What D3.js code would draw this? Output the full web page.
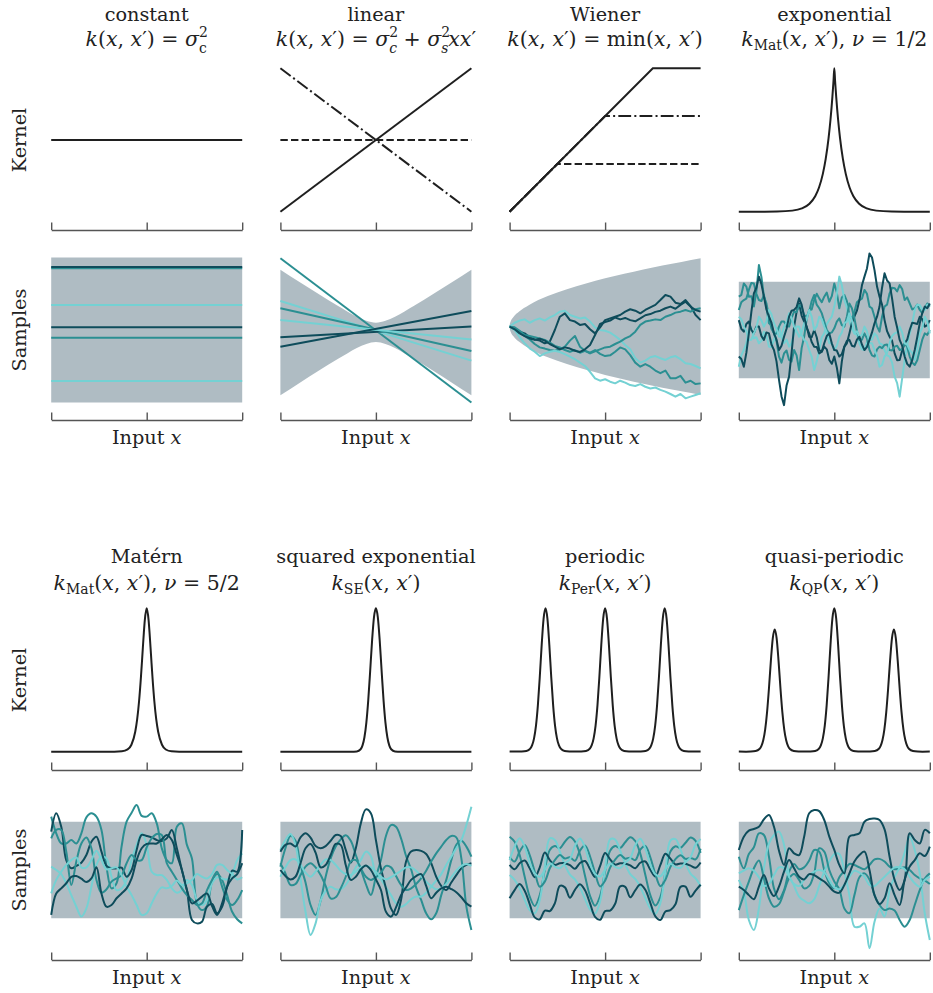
<!DOCTYPE html>
<html>
<head>
<meta charset="utf-8">
<script src="https://cdn.jsdelivr.net/npm/d3@7"></script>
<style>
  body { margin: 0; background: #fff; }
</style>
</head>
<body>
<div id="chart"></div>
<script>
// ---- panel text ----
var titles = ["constant", "linear", "Wiener", "exponential",
              "Matérn", "squared exponential", "periodic", "quasi-periodic"];

// formula pieces: [text, style]  (i = italic, sup / sub, back = stack under previous sup)
var kxx = [["k", "i"], ["(", ""], ["x", "i"], [", ", ""], ["x", "i"], ["′", ""], [")", ""]];
var formulas = [
  kxx.concat([[" = ", ""], ["σ", "i"], ["2", "sup"], ["c", "sub back"]]),
  kxx.concat([[" = ", ""], ["σ", "i"], ["2", "sup"], ["c", "sub back i"], [" + ", ""], ["σ", "i"], ["2", "sup"], ["s", "sub back i"], ["xx", "i"], ["′", ""]]),
  kxx.concat([[" = min(", ""], ["x", "i"], [", ", ""], ["x", "i"], ["′", ""], [")", ""]]),
  [["k", "i"], ["Mat", "sub"], ["(", ""], ["x", "i"], [", ", ""], ["x", "i"], ["′", ""], ["), ", ""], ["ν", "i"], [" = 1/2", ""]],
  [["k", "i"], ["Mat", "sub"], ["(", ""], ["x", "i"], [", ", ""], ["x", "i"], ["′", ""], ["), ", ""], ["ν", "i"], [" = 5/2", ""]],
  [["k", "i"], ["SE", "sub"], ["(", ""], ["x", "i"], [", ", ""], ["x", "i"], ["′", ""], [")", ""]],
  [["k", "i"], ["Per", "sub"], ["(", ""], ["x", "i"], [", ", ""], ["x", "i"], ["′", ""], [")", ""]],
  [["k", "i"], ["QP", "sub"], ["(", ""], ["x", "i"], [", ", ""], ["x", "i"], ["′", ""], [")", ""]]
];

// ---- kernel curves (x in [0,1], k in [0,1]) ----
var constKX = [0, 1], constKY = [0.5, 0.5];
var linKX = [0, 1];
var linSolid = [0, 1], linDashed = [0.5, 0.5], linDashDot = [1, 0];
var wienerDashedX = [0, 0.25, 1], wienerDashed = [0, 0.333, 0.333];
var wienerDashDotX = [0, 0.5, 1], wienerDashDot = [0, 0.667, 0.667];
var wienerSolidX = [0, 0.75, 1], wienerSolid = [0, 1, 1];

var expX = [0, 0.1, 0.2, 0.28, 0.33, 0.37, 0.4, 0.42, 0.44, 0.455, 0.47, 0.48, 0.49, 0.496, 0.5,
            0.504, 0.51, 0.52, 0.53, 0.545, 0.56, 0.58, 0.6, 0.63, 0.67, 0.72, 0.8, 0.9, 1];
var expK = [0, 0.0001, 0.0013, 0.0075, 0.0229, 0.0556, 0.108, 0.169, 0.264, 0.368, 0.513, 0.641, 0.801, 0.915, 1,
            0.915, 0.801, 0.641, 0.513, 0.368, 0.264, 0.169, 0.108, 0.0556, 0.0229, 0.0075, 0.0013, 0.0001, 0];

var maternX = [0, 0.2, 0.33, 0.37, 0.4, 0.42, 0.44, 0.45, 0.46, 0.47, 0.475, 0.48, 0.485, 0.49, 0.5,
               0.51, 0.515, 0.52, 0.525, 0.53, 0.54, 0.55, 0.56, 0.58, 0.6, 0.63, 0.67, 0.8, 1];
var maternK = [0, 0, 0.0002, 0.0026, 0.0156, 0.0484, 0.139, 0.225, 0.352, 0.524, 0.624, 0.728, 0.829, 0.916, 1,
               0.916, 0.829, 0.728, 0.624, 0.524, 0.352, 0.225, 0.139, 0.0484, 0.0156, 0.0026, 0.0002, 0, 0];

var seX = [0, 0.3, 0.37, 0.4, 0.42, 0.43, 0.44, 0.45, 0.46, 0.47, 0.48, 0.49, 0.5,
           0.51, 0.52, 0.53, 0.54, 0.55, 0.56, 0.57, 0.58, 0.6, 0.63, 0.7, 1];
var seK = [0, 0, 0, 0.0017, 0.0169, 0.0439, 0.1007, 0.203, 0.36, 0.563, 0.775, 0.938, 1,
           0.938, 0.775, 0.563, 0.36, 0.203, 0.1007, 0.0439, 0.0169, 0.0017, 0, 0, 0];

var perX = [0, 0.038, 0.063, 0.088, 0.108, 0.118, 0.128, 0.138, 0.148, 0.158, 0.168, 0.178, 0.188,
            0.198, 0.208, 0.218, 0.228, 0.238, 0.248, 0.258, 0.268, 0.288, 0.313, 0.344, 0.375, 0.4,
            0.42, 0.43, 0.44, 0.45, 0.46, 0.47, 0.48, 0.49, 0.5,
            0.51, 0.52, 0.53, 0.54, 0.55, 0.56, 0.57, 0.58, 0.6, 0.625, 0.656, 0.687, 0.712,
            0.732, 0.742, 0.752, 0.762, 0.772, 0.782, 0.792, 0.802, 0.812,
            0.822, 0.832, 0.842, 0.852, 0.862, 0.872, 0.882, 0.892, 0.912, 0.937, 0.962, 1];
var perK = [0.0014, 0.0006, 0.0014, 0.0051, 0.0217, 0.0454, 0.093, 0.18, 0.323, 0.521, 0.745, 0.928, 1,
            0.928, 0.745, 0.521, 0.323, 0.18, 0.093, 0.0454, 0.0217, 0.0051, 0.0014, 0.0006, 0.0014, 0.0051,
            0.0217, 0.0454, 0.093, 0.18, 0.323, 0.521, 0.745, 0.928, 1,
            0.928, 0.745, 0.521, 0.323, 0.18, 0.093, 0.0454, 0.0217, 0.0051, 0.0014, 0.0006, 0.0014, 0.0051,
            0.0217, 0.0454, 0.093, 0.18, 0.323, 0.521, 0.745, 0.928, 1,
            0.928, 0.745, 0.521, 0.323, 0.18, 0.093, 0.0454, 0.0217, 0.0051, 0.0014, 0.0006, 0.0014];
var qpK = [0.0012, 0.0005, 0.0012, 0.0044, 0.0185, 0.0387, 0.0793, 0.154, 0.276, 0.444, 0.635, 0.792, 0.853,
           0.792, 0.635, 0.444, 0.276, 0.154, 0.0793, 0.0387, 0.0185, 0.0044, 0.0012, 0.0006, 0.0014, 0.0051,
           0.0217, 0.0454, 0.093, 0.18, 0.323, 0.521, 0.745, 0.928, 1,
           0.928, 0.745, 0.521, 0.323, 0.18, 0.093, 0.0454, 0.0217, 0.0051, 0.0014, 0.0006, 0.0012, 0.0044,
           0.0185, 0.0387, 0.0793, 0.154, 0.276, 0.444, 0.635, 0.792, 0.853,
           0.792, 0.635, 0.444, 0.276, 0.154, 0.0793, 0.0387, 0.0185, 0.0044, 0.0012, 0.0005, 0.0012];

// ---- prior bands (x in [0,1]) ----
var flatBandX = [0, 1];
var constBandLo = [-3, -3], constBandHi = [3, 3];
var statBandLo = [-2, -2], statBandHi = [2, 2];
var linBandX = [0, 0.1, 0.2, 0.3, 0.35, 0.4, 0.45, 0.5, 0.55, 0.6, 0.65, 0.7, 0.8, 0.9, 1];
var linBandHi = [2.5, 1.99, 1.49, 1.0, 0.77, 0.55, 0.38, 0.3, 0.38, 0.55, 0.77, 1.0, 1.49, 1.99, 2.5];
var linBandLo = [-2.7, -2.19, -1.69, -1.2, -0.97, -0.75, -0.58, -0.5, -0.58, -0.75, -0.97, -1.2, -1.69, -2.19, -2.7];
var wienerBandX = [0, 0.001, 0.005, 0.02, 0.05, 0.1, 0.15, 0.2, 0.3, 0.4, 0.5, 0.6, 0.7, 0.8, 0.9, 1];
var wienerBandHi = [0.14, 0.23, 0.34, 0.54, 0.77, 1.03, 1.24, 1.41, 1.69, 1.93, 2.14, 2.33, 2.51, 2.67, 2.82, 2.97];
var wienerBandLo = [0.14, 0.05, -0.06, -0.26, -0.49, -0.75, -0.96, -1.13, -1.41, -1.65, -1.86, -2.05, -2.23, -2.39, -2.54, -2.69];

// ---- samples (order: mid, light, dark, mid, light, dark) ----
var constSamples = [2.56, 1.04, 2.61, -0.32, -2.11, 0.11];
var linSamples = [[2.97, -3.0], [1.2, -1.27], [-0.3, 0.14], [0.9, -0.87], [0.41, -0.39], [-0.69, 0.79]];

var wienerM1 = [0.14,0.03,-0.11,-0.25,-0.39,-0.58,-0.72,-0.77,-0.83,-0.86,-0.8,-0.69,-0.44,-0.25,-0.69,-0.86,-0.94,-0.83,-0.99,-1.08,-1.05,-0.9,-0.72,-0.8,-1.04,-1.35,-1.52,-1.41,-1.52,-1.68,-1.79,-1.68,-2.0,-2.0,-1.9,-2.18,-2.1,-2.24,-2.21];
var wienerL1 = [0.14,0.3,0.39,0.44,0.3,0.41,0.48,0.39,0.52,0.62,0.76,0.8,0.62,0.55,0.48,0.52,0.35,0.11,0,-0.03,-0.11,-0.25,-0.41,-0.62,-0.8,-1.17,-1.35,-1.27,-1.13,-1.08,-1.17,-1.24,-1.13,-1.08,-1.21,-1.38,-1.41,-1.49,-1.59];
var wienerD1 = [0.14,0.07,-0.07,-0.14,-0.3,-0.39,-0.44,-0.55,-0.48,0,0.55,0.69,0.41,0.35,0.21,0.25,0.03,-0.14,0.11,0.41,0.48,0.55,0.62,0.76,0.86,0.8,0.69,0.83,0.94,1.04,1.24,1.45,1.38,1.13,1.08,1.24,0.99,0.62,0.41];
var wienerM2 = [0.14,0.11,-0.03,-0.21,-0.25,-0.3,-0.35,-0.41,-0.52,-0.66,-0.72,-0.83,-0.9,-0.83,-0.94,-0.86,-0.97,-0.88,-0.8,-0.72,-0.69,-0.58,-0.48,-0.35,-0.25,-0.07,0.21,0.35,0.39,0.44,0.41,0.55,0.62,0.72,0.76,0.83,0.76,0.86,0.9];
var wienerL2 = [0.14,0,-0.3,-0.55,-0.76,-0.9,-1.08,-0.97,-0.9,-0.86,-0.91,-1.0,-1.1,-1.21,-1.35,-1.49,-1.73,-2.0,-2.1,-2.04,-2.14,-2.21,-2.1,-2.18,-2.28,-2.32,-2.24,-2.35,-2.42,-2.38,-2.48,-2.55,-2.65,-2.76,-2.65,-2.83,-2.76,-2.69,-2.62];
var wienerD2 = [0.14,0.03,-0.14,-0.25,-0.35,-0.41,-0.36,-0.44,-0.58,-0.69,-0.8,-0.72,-0.77,-0.86,-0.91,-0.8,-0.62,-0.21,0.25,0.33,0.39,0.52,0.44,0.5,0.41,0.36,0.48,0.61,0.66,0.75,0.8,0.9,0.97,0.88,1.04,1.17,0.97,0.83,0.76];

var expM1 = [1.38,1.45,1.93,1.80,1.38,1.40,0.97,1.60,2.69,2.20,1.38,1.10,0.55,0.05,-0.14,-0.45,-1.1,-1.35,-0.97,-0.85,-1.24,-1.30,-0.83,-1.05,-1.66,-0.75,-0.28,0.45,0.83,0.85,1.24,1.50,1.31,1.15,1.38,1.55,1.17,1.40,1.93,1.55,0.9,1.35,1.45,1.20,0.62,0.45,0.76,1.15,1.24,1.30,1.66,1.50,0.97,0.90,0.55,0.15,-0.07,0.55,0.97,1.05,1.52,1.75,1.73,1.60,1.86,1.70,1.24,1.35,1.1,0.85,0.9,1.05,0.83,0.70,0.9,1.10,0.97];
var expL1 = [-1.52,-1.05,-0.83,-0.55,0,0.10,-0.35,-0.30,-0.55,-0.45,-0.07,-0.20,-0.69,-0.70,-0.41,-0.05,0.14,-0.30,-0.55,-0.40,-0.69,-0.55,-0.14,0.15,0.14,-0.20,-0.41,-0.50,-0.83,-1.10,-1.66,-1.30,-0.83,-0.30,-0.14,0.25,0.41,0.55,0.97,1.50,2.21,1.85,1.24,0.95,0.35,0.05,-0.14,-0.20,-0.55,-0.80,-0.83,-0.50,-0.41,-0.40,-0.14,-0.25,-0.55,-0.60,-0.83,-1.05,-1.1,-1.35,-1.93,-2.20,-2.76,-2.00,-1.24,-0.60,-0.14,0.25,0.83,1.05,1.04,0.85,0.83,1.05,0.97];
var expD1 = [0.41,0.05,-0.07,0.25,0.35,0.00,-0.14,0.15,0.14,-0.25,-0.41,-0.10,-0.14,-0.60,-0.83,-1.30,-2.07,-2.75,-3.11,-2.30,-1.93,-0.95,0.14,0.75,1.1,0.60,0.35,0.15,-0.28,-0.30,0,-0.30,-0.83,-0.90,-0.69,-0.80,-1.24,-1.40,-1.1,-1.55,-2.21,-1.30,-0.69,-0.55,-0.14,0.30,0.55,0.80,1.24,1.85,2.21,2.55,3.17,3.00,2.48,1.80,1.38,1.05,0.41,-0.05,-0.28,-0.45,-0.97,-1.25,-1.24,-0.85,-0.55,-0.40,0,0.30,0.28,0.25,0.55,0.45,0.14,0.20,0.41];
var expM2 = [0.83,1.15,1.24,1.30,1.66,1.95,1.93,1.50,1.24,1.20,1.45,0.95,0.28,0.20,-0.14,-0.15,0.14,0.35,0.35,0.15,0.14,0.50,0.76,0.75,1.04,0.95,0.62,0.55,0.76,1.20,1.45,1.05,0.9,0.70,0.35,0.00,-0.14,-0.10,0.07,0.35,0.48,0.20,0.14,0.55,1.1,0.90,0.48,-0.05,-0.41,-0.40,-0.14,-0.35,-0.83,-1.05,-1.1,-0.80,-0.69,-0.75,-0.62,-0.60,-0.83,-0.85,-0.69,-0.65,-0.83,-0.80,-0.55,-0.70,-1.1,-1.35,-1.45,-1.25,-0.83,-0.40,-0.14,-0.20,0];
var expL2 = [0.55,0.45,0.14,-0.05,-0.41,-0.40,-0.14,0.10,0.55,0.40,0.14,0.35,0.83,0.65,0.28,0.05,-0.28,-0.25,0.14,0.30,0.69,0.50,0.14,-0.05,-0.28,-0.10,0.28,0.45,0.83,0.55,0,0.15,0.55,0.45,0.14,-0.10,-0.55,-0.55,-0.83,-0.65,-0.28,-0.10,0.28,0.35,0.69,0.40,-0.14,-0.05,-0.28,-0.20,0.14,-0.05,-0.55,-0.55,-0.83,-1.05,-1.52,-1.45,-1.1,-0.95,-0.55,-0.25,-0.14,-0.10,0.14,-0.10,-0.55,-0.60,-0.83,-0.95,-1.24,-0.80,-0.14,0.10,0.55,0.35,-0.14];
var expD2 = [-1.1,-1.20,-1.52,-0.95,-0.14,0.75,1.52,1.75,2.21,1.90,1.38,0.85,0.55,0.30,-0.14,-0.40,-0.83,-0.65,-0.28,0.05,0.55,0.80,0.83,0.95,1.31,1.05,0.55,0.10,-0.14,-0.50,-0.69,-0.70,-0.97,-0.90,-0.55,-0.25,-0.14,-0.55,-0.83,-0.85,-1.1,-1.00,-0.69,-0.45,-0.41,-0.65,-0.69,-0.40,-0.28,-0.60,-0.83,-0.70,-0.41,-0.10,0.28,0.55,0.97,1.75,2.35,2.05,1.93,1.30,0.55,0.10,-0.41,-0.65,-1.1,-1.40,-1.52,-1.25,-0.83,-0.30,0.28,0.70,0.97,0.90,1.1];

var maternM1 = [2.21,1.52,1.1,1.1,1.24,1.1,1.52,2.18,2.35,2.21,1.66,0.14,-0.76,-0.55,0.97,2.0,2.37,2.69,2.24,2.21,2.35,1.93,0.9,0.41,0.28,1.79,1.93,1.04,0.48,-1.38,-1.66,-1.49,-0.48,-0.17,-0.41,-1.04,-1.73,-2.04,-2.21];
var maternL1 = [0.14,0,-0.17,-0.55,-1.04,-1.52,-1.93,-1.59,-0.69,0.21,0.55,0.48,-0.28,-0.83,-0.76,-0.41,0.41,1.04,1.52,1.04,-0.07,-0.21,-0.21,-0.41,-0.76,-0.94,-0.83,-0.41,-0.62,-1.24,-1.45,-1.24,-0.55,-0.3,-0.35,-0.39,-0.17,0.41,0.69];
var maternD1 = [1.59,2.35,1.79,0.41,0.07,0.17,0.3,0.62,1.17,1.38,0.76,0.17,0.07,0.07,0.1,-0.28,0,0.83,1.45,1.41,1.35,1.24,1.2,1.31,1.66,0.9,0,-0.83,-2.07,-2.21,-2.14,-1.52,-1.41,-1.79,-1.52,-0.69,-0.03,-0.07,1.66];
var maternM2 = [1.31,1.66,1.66,0.76,-0.62,0.35,1.1,1.35,0.9,-0.41,-0.94,-0.8,-0.48,-0.35,-0.21,0.28,0.62,0.41,0.41,0.94,1.31,1.49,1.45,0.28,-0.07,-0.41,-0.76,-1.04,-1.24,-1.45,-1.38,-0.83,-0.41,-0.07,-0.69,-1.24,-1.45,-1.24,-0.83];
var maternL2 = [-0.97,-0.41,-0.07,0.21,0.41,0.52,0.11,0.11,0.41,0.8,0.41,0.03,0.07,0.11,-0.21,-0.69,-1.04,-1.45,-1.86,-1.79,-1.38,-0.97,-0.72,-0.76,-0.66,-0.44,-0.62,-0.55,-0.41,-0.17,-0.28,-0.35,-0.17,0.21,0.21,0,-0.17,-0.39,-0.3];
var maternD2 = [-1.86,-0.97,-0.76,-0.55,-0.28,-0.25,-0.36,-0.5,-0.35,0.11,-0.97,-1.52,-1.45,-1.17,-0.97,-0.76,-0.35,0.41,0.9,1.08,1.1,1.1,1.27,1.45,1.24,0.62,0,-0.83,-1.38,-1.27,-1.1,-0.97,-1.49,-1.86,-1.38,-0.69,-0.35,-0.17,0.28];

var seM1 = [0.14,0.9,1.41,1.21,0.21,-0.52,-1.45,-1.86,-1.27,-0.28,0.48,0.97,1.27,1.44,1.21,0.62,0.03,-0.58,-1.04,-0.28,0.41,1.41,1.86,1.79,1.31,0.58,0.03,-0.72,-1.24,-1.79,-2.04,-1.79,-1.04,-0.41,0.41,1.04,1.21,0.97,0.55];
var seL1 = [0.83,1.24,1.49,1.04,-0.35,-1.73,-2.69,-2.21,-1.27,-0.86,-0.69,-0.8,-0.8,-0.62,-0.28,0.11,0.41,0.76,0.58,-0.21,-0.39,-0.72,-1.04,-1.38,-1.52,-1.41,-1.21,-1.1,-1.1,-0.94,-0.69,-0.44,-0.17,0.21,0.55,0.9,1.24,1.86,2.62];
var seD1 = [0.76,1.04,1.1,0.97,1.35,1.52,1.34,0.99,0.9,0.99,1.21,1.45,1.41,0.83,0.3,0.9,1.93,2.51,2.35,1.24,0.07,-0.76,-1.59,-1.86,-1.24,0.35,0.77,0.83,0.79,0.66,0.28,-0.28,-0.66,-0.83,-0.52,-0.21,0.07,0.21,0.28];
var seM2 = [0.28,-0.14,-0.62,-0.58,-0.21,0.14,0.28,0.11,-0.21,-0.66,-1.17,-1.13,-0.76,-0.28,0.35,0.41,0.07,-0.28,-0.41,-0.3,-0.11,0.17,0.11,-0.25,-0.62,-0.83,-0.76,-0.58,-0.35,-0.03,0.35,0.69,0.97,1.24,1.41,1.35,0.48,-1.52,-2.48];
var seL2 = [-0.28,0.11,0.41,0.44,0.21,-0.11,-0.28,-0.07,0.21,0.44,0.41,0.21,-0.03,-0.17,-0.21,-0.07,0.11,0.17,0.11,-0.07,-0.28,-0.39,-0.3,-0.17,-0.03,0.11,0.11,-0.03,-0.25,-0.48,-0.66,-0.8,-0.76,-0.58,-0.3,-0.03,0.17,0.25,0.17];
var seD2 = [0,-0.25,-0.39,-0.28,0.28,0.9,1.08,0.72,0.11,0.21,0.62,1.08,1.04,0.21,-0.41,-0.28,0.03,0.19,0,-0.39,-0.83,-1.73,-1.93,-1.55,-1.04,-0.72,-0.41,-0.25,-0.17,-0.66,-1.17,-0.94,-0.76,-0.69,-0.79,-0.92,-1.13,-1.38,-1.52];

var perM1 = [1.38,1.17,0.62,-0.28,-1.1,-1.49,-1.04,0,0.83,0.99,0.9,1.17,1.37,1.18,0.65,-0.24,-1.07,-1.48,-1.08,-0.05,0.8,0.99,0.91,1.15,1.36,1.2,0.68,-0.2,-1.04,-1.47,-1.12,-0.1,0.77,0.98,0.92,1.13,1.35,1.21,0.71];
var perL1 = [-0.21,-0.41,-0.76,-1.24,-1.66,-1.79,-1.24,0.14,1.31,1.24,0.76,0.21,-0.19,-0.39,-0.73,-1.2,-1.63,-1.8,-1.3,0.05,1.27,1.26,0.8,0.25,-0.17,-0.37,-0.7,-1.16,-1.6,-1.81,-1.36,-0.04,1.22,1.28,0.84,0.29,-0.15,-0.35,-0.67];
var perD1 = [0.21,0.03,0.28,0.39,0.07,-0.3,0.11,0.72,0.41,0.21,0.28,0.28,0.2,0.05,0.29,0.37,0.04,-0.29,0.16,0.7,0.44,0.22,0.28,0.27,0.19,0.07,0.3,0.35,0.01,-0.27,0.21,0.67,0.47,0.23,0.27,0.26,0.18,0.09,0.31];
var perM2 = [0.55,0.35,0.76,1.04,0.62,-0.07,-0.69,-0.48,0.07,0.41,0.62,0.48,0.53,0.38,0.8,1.02,0.57,-0.12,-0.68,-0.44,0.1,0.43,0.62,0.47,0.51,0.41,0.84,1.0,0.52,-0.17,-0.67,-0.4,0.13,0.45,0.61,0.46,0.5,0.44,0.88];
var perL2 = [0.41,0.97,1.31,0.97,0.28,-0.14,-0.28,0,0.28,0.14,0.07,0.28,0.45,1.0,1.3,0.93,0.25,-0.16,-0.27,0.02,0.27,0.13,0.08,0.3,0.49,1.03,1.29,0.89,0.22,-0.18,-0.26,0.04,0.26,0.12,0.09,0.32,0.53,1.06,1.28];
var perD2 = [-1.17,-0.83,-0.58,-0.86,-1.41,-1.96,-2.04,-1.68,-1.7,-1.38,-0.66,-0.72,-1.15,-0.82,-0.59,-0.84,-1.38,-1.94,-2.06,-1.7,-1.68,-1.4,-0.68,-0.7,-1.13,-0.84,-0.6,-0.82,-1.36,-1.92,-2.07,-1.72,-1.66,-1.42,-0.7,-0.69,-1.11,-0.85,-0.61];

var qpM1 = [0.55,0.07,0.66,0.94,1.52,1.45,0.55,-0.76,-1.21,-0.83,-0.07,0.25,0.03,0.11,0.39,0.83,0.76,0,-0.55,-0.76,-0.3,-0.03,0.25,0.21,0.11,0.03,0.21,0.44,0.46,0.35,0.14,0.03,0.07,0.11,0,-0.21,-0.35,-0.44,-0.58];
var qpL1 = [-0.41,-0.9,-2.07,-2.48,-1.59,0.07,1.1,1.45,1.59,1.04,-0.21,-0.66,-1.1,-1.27,-1.38,-1.21,-0.66,-0.07,0.35,0.66,0.66,-0.07,-1.04,-2.35,-2.35,-2.21,-3.24,-2.14,-1.59,-1.93,-0.83,-0.28,0.11,0.72,1.38,0.83,-0.14,-1.79,-2.9];
var qpD1 = [0.83,1.38,1.63,1.7,1.79,2.1,2.28,1.79,0.8,0.21,0.9,0.69,0.62,1.38,2.35,2.48,2.44,2.07,1.38,0.83,0.21,-0.14,1.38,1.45,1.52,2.0,2.11,2.13,2.07,1.68,0.55,-0.41,-0.83,-0.41,1.52,1.24,1.1,1.66,1.52];
var qpM2 = [-1.66,-1.04,-0.48,0.07,0.39,-0.35,-1.17,-1.52,-1.41,-0.9,-0.35,-0.17,-0.41,-0.76,-0.66,-0.14,0.9,0.76,0,-0.48,-0.8,-1.59,-1.79,-1.04,-0.3,-0.14,-0.39,-1.04,-1.45,-1.66,-1.59,-1.68,-2.07,-2.35,-2.07,-1.45,-0.83,-0.35,-0.14];
var qpL2 = [-0.14,-0.03,0.07,-0.03,-0.3,-0.66,-0.58,-0.21,0.11,0.07,-0.28,-0.58,-0.66,-0.41,-0.21,-0.07,0,-0.08,-0.41,-0.72,-0.8,-0.62,-0.28,-0.03,-0.11,-0.28,-0.62,-0.66,-0.48,-0.28,-0.07,0.11,0.11,0.03,-0.28,-0.55,-0.69,-0.41,-0.28];
var qpD2 = [-0.69,-0.83,-1.04,-1.21,-0.69,-0.21,-0.76,-1.08,-0.69,-0.07,0.41,0.07,-0.28,-0.39,-0.17,-0.21,-0.35,-0.48,-0.69,-0.9,-0.94,-0.62,-0.14,0.35,0.62,0.76,0,-1.04,-1.41,-1.17,-0.55,-1.04,-1.45,-0.41,0.14,0.41,0.69,0.58,0.97];

// ---- style ----
var dark = "#0e4c5b", mid = "#2b8f92", light = "#74d1d3";
var sampleColors = [mid, light, dark, mid, light, dark];
var bandColor = "#afbcc3";
var inkColor = "#1f1f1f";
var axisColor = "#555";
var dashes = { solid: null, dashed: "7.4,3.2", dashdot: "12.8,3.2,2,3.2" };

// ---- panel table built from the arrays above ----
var panels = [
  { kernel: [{ x: constKX, k: constKY, dash: "solid" }], kCurve: d3.curveLinear,
    band: [flatBandX, constBandLo, constBandHi],
    samples: constSamples.map(function(v) { return [v, v]; }), sCurve: d3.curveLinear },
  { kernel: [{ x: linKX, k: linDashed, dash: "dashed" }, { x: linKX, k: linDashDot, dash: "dashdot" },
             { x: linKX, k: linSolid, dash: "solid" }], kCurve: d3.curveLinear,
    band: [linBandX, linBandLo, linBandHi], samples: linSamples, sCurve: d3.curveLinear },
  { kernel: [{ x: wienerDashedX, k: wienerDashed, dash: "dashed" }, { x: wienerDashDotX, k: wienerDashDot, dash: "dashdot" },
             { x: wienerSolidX, k: wienerSolid, dash: "solid" }], kCurve: d3.curveLinear,
    band: [wienerBandX, wienerBandLo, wienerBandHi],
    samples: [wienerM1, wienerL1, wienerD1, wienerM2, wienerL2, wienerD2], sCurve: d3.curveLinear },
  { kernel: [{ x: expX, k: expK, dash: "solid" }], kCurve: d3.curveMonotoneX,
    band: [flatBandX, statBandLo, statBandHi],
    samples: [expM1, expL1, expD1, expM2, expL2, expD2], sCurve: d3.curveLinear },
  { kernel: [{ x: maternX, k: maternK, dash: "solid" }], kCurve: d3.curveMonotoneX,
    band: [flatBandX, statBandLo, statBandHi],
    samples: [maternM1, maternL1, maternD1, maternM2, maternL2, maternD2], sCurve: d3.curveCatmullRom },
  { kernel: [{ x: seX, k: seK, dash: "solid" }], kCurve: d3.curveMonotoneX,
    band: [flatBandX, statBandLo, statBandHi],
    samples: [seM1, seL1, seD1, seM2, seL2, seD2], sCurve: d3.curveCatmullRom },
  { kernel: [{ x: perX, k: perK, dash: "solid" }], kCurve: d3.curveMonotoneX,
    band: [flatBandX, statBandLo, statBandHi],
    samples: [perM1, perL1, perD1, perM2, perL2, perD2], sCurve: d3.curveCatmullRom },
  { kernel: [{ x: perX, k: qpK, dash: "solid" }], kCurve: d3.curveMonotoneX,
    band: [flatBandX, statBandLo, statBandHi],
    samples: [qpM1, qpL1, qpD1, qpM2, qpL2, qpD2], sCurve: d3.curveCatmullRom }
];

// ---- layout ----
var panelW = 191;
var colX = [51.2, 280.4, 509.6, 738.8];

var svg = d3.select("#chart").append("svg")
  .attr("width", 933)
  .attr("height", 993)
  .style("font-family", "'DejaVu Serif', serif")
  .style("font-size", "19.3px")
  .attr("fill", "#222");

function addMath(text, parts) {
  var cur = 0;
  parts.forEach(function(p) {
    var flags = p[1].split(" ");
    var target = 0;
    if (flags.indexOf("sup") >= 0) target = -8.5;
    if (flags.indexOf("sub") >= 0) target = flags.indexOf("back") >= 0 ? 7 : 4.5;
    var ts = text.append("tspan").text(p[0]).attr("dy", target - cur);
    cur = target;
    if (target !== 0) ts.style("font-size", "0.68em");
    if (flags.indexOf("i") >= 0) ts.style("font-style", "italic");
    if (flags.indexOf("back") >= 0) ts.attr("dx", "-0.64em");
  });
}

function bracket(scale) {
  return function(sel) {
    sel.call(d3.axisTop(scale).tickValues([0, 0.5, 1]).tickSize(7.5).tickSizeOuter(0).tickFormat(""));
    sel.attr("color", axisColor);
    sel.selectAll("path, line").attr("stroke-width", 1.4);
  };
}

panels.forEach(function(p, idx) {
  var col = idx % 4, row = Math.floor(idx / 4);
  var x0 = colX[col], sh = row * 540, th = row * 542;
  var cx = x0 + panelW / 2;
  var xk = d3.scaleLinear().domain([0, 1]).range([x0, x0 + panelW]);
  var yk = d3.scaleLinear().domain([0, 1]).range([211.7 + sh, 68.3 + sh]);
  var ys = d3.scaleLinear().domain([-1, 1]).range([354.15 + sh, 305.85 + sh]);
  var g = svg.append("g");

  // titles
  g.append("text").attr("x", cx).attr("y", 20.5 + th)
    .attr("text-anchor", "middle").text(titles[idx]);
  var f = g.append("text").attr("x", cx).attr("y", 45.5 + th + row * 2)
    .attr("text-anchor", "middle").style("white-space", "pre").style("font-size", "20.5px");
  addMath(f, formulas[idx]);

  // kernel lines
  p.kernel.forEach(function(kl) {
    var line = d3.line()
      .x(function(d, i) { return xk(kl.x[i]); })
      .y(function(d) { return yk(d); })
      .curve(p.kCurve);
    g.append("path")
      .attr("d", line(kl.k))
      .attr("fill", "none")
      .attr("stroke", inkColor)
      .attr("stroke-width", 2)
      .attr("stroke-dasharray", dashes[kl.dash]);
  });
  g.append("g").attr("transform", "translate(0," + (230 + sh) + ")").call(bracket(xk));

  // prior band
  var bx = p.band[0], blo = p.band[1];
  var area = d3.area()
    .x(function(d, i) { return xk(bx[i]); })
    .y0(function(d, i) { return ys(blo[i]); })
    .y1(function(d) { return ys(d); })
    .curve(d3.curveMonotoneX);
  g.append("path").attr("d", area(p.band[2])).attr("fill", bandColor);

  // samples
  p.samples.forEach(function(s, j) {
    var xs = d3.scaleLinear().domain([0, s.length - 1]).range([x0, x0 + panelW]);
    var line = d3.line()
      .x(function(d, i) { return xs(i); })
      .y(function(d) { return ys(d); })
      .curve(p.sCurve);
    g.append("path")
      .attr("d", line(s))
      .attr("fill", "none")
      .attr("stroke", sampleColors[j])
      .attr("stroke-width", 2)
      .attr("stroke-linejoin", "round");
  });
  g.append("g").attr("transform", "translate(0," + (420 + sh) + ")").call(bracket(xk));

  var lab = g.append("text").attr("x", cx).attr("y", 444 + sh)
    .attr("text-anchor", "middle").style("white-space", "pre");
  lab.append("tspan").text("Input ");
  lab.append("tspan").style("font-style", "italic").text("x");

  // row labels
  if (col === 0) {
    g.append("text").attr("transform", "translate(26," + (140 + sh) + ") rotate(-90)")
      .attr("text-anchor", "middle").text("Kernel");
    g.append("text").attr("transform", "translate(26," + (330 + sh) + ") rotate(-90)")
      .attr("text-anchor", "middle").text("Samples");
  }
});
</script>
</body>
</html>
